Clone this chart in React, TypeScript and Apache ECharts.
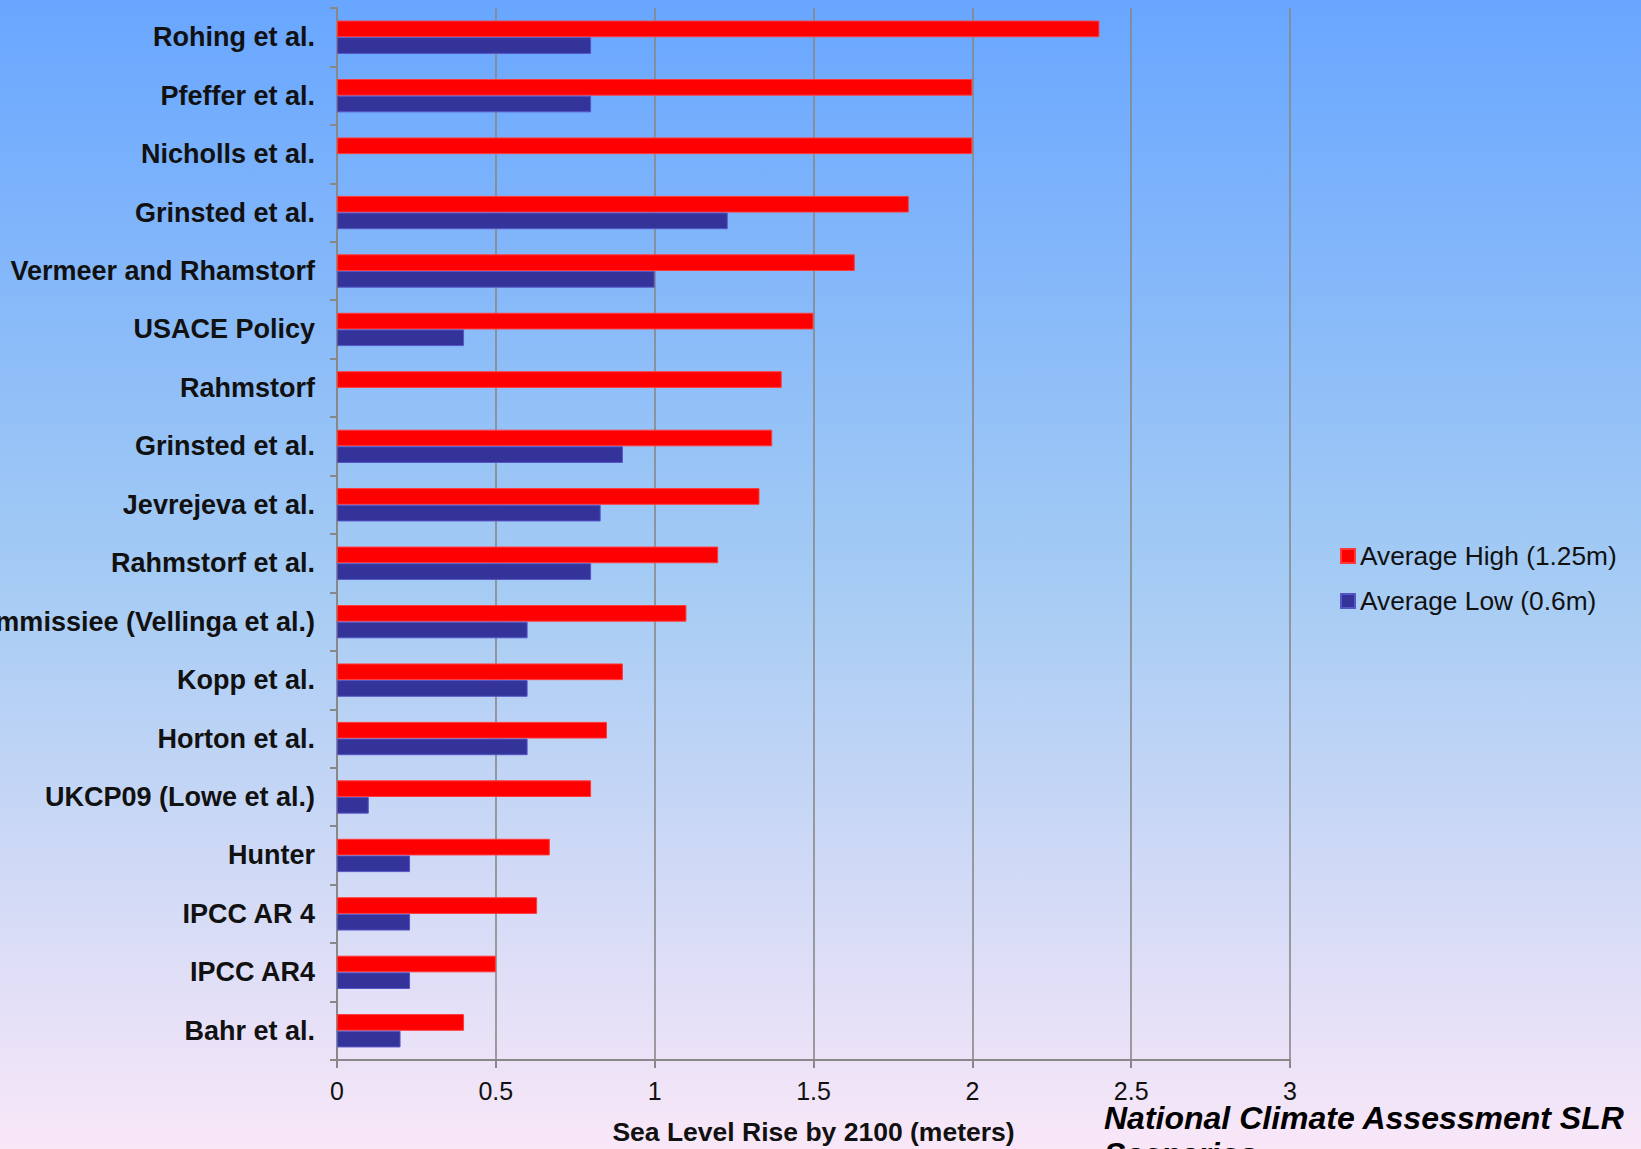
import React, { useEffect, useRef } from "react";
import * as echarts from "echarts";

const categories = [
  "Rohing et al.",
  "Pfeffer et al.",
  "Nicholls et al.",
  "Grinsted et al.",
  "Vermeer and Rhamstorf",
  "USACE Policy",
  "Rahmstorf",
  "Grinsted et al. ",
  "Jevrejeva et al.",
  "Rahmstorf et al.",
  "Deltacommissiee (Vellinga et al.)",
  "Kopp et al.",
  "Horton et al.",
  "UKCP09 (Lowe et al.)",
  "Hunter",
  "IPCC AR 4",
  "IPCC AR4",
  "Bahr et al.",
];

const highValues = [2.4, 2.0, 2.0, 1.8, 1.63, 1.5, 1.4, 1.37, 1.33, 1.2, 1.1, 0.9, 0.85, 0.8, 0.67, 0.63, 0.5, 0.4];
const lowValues = [0.8, 0.8, null, 1.23, 1.0, 0.4, null, 0.9, 0.83, 0.8, 0.6, 0.6, 0.6, 0.1, 0.23, 0.23, 0.23, 0.2];

const seriesNames = ["Average High (1.25m)", "Average Low (0.6m)"];
const xTicks = { min: 0, max: 3, interval: 0.5 };
const axisTitle = "Sea Level Rise by 2100 (meters)";
const footerText = "National Climate Assessment SLR\nScenarios";

const FONT = "'Liberation Sans', Arial, sans-serif";

export default function App() {
  const ref = useRef<HTMLDivElement>(null);
  useEffect(() => {
    if (!ref.current) return;
    const chart = echarts.init(ref.current, undefined, { renderer: "svg" });
    chart.setOption({
      animation: false,
      backgroundColor: new echarts.graphic.LinearGradient(0, 0, 0, 1, [
        { offset: 0, color: "#68a6ff" },
        { offset: 0.5, color: "#a4cbf4" },
        { offset: 1, color: "#f9e7f8" },
      ]),
      grid: {
        left: 337,
        right: 351,
        top: 8,
        bottom: 89,
        containLabel: false,
        outerBoundsMode: "none",
      },
      legend: {
        orient: "vertical",
        left: 1335,
        top: 538,
        itemWidth: 14,
        itemHeight: 14,
        itemGap: 19,
        icon: "rect",
        data: seriesNames,
        textStyle: { fontFamily: FONT, fontSize: 26.3, color: "#111" },
      },
      xAxis: {
        type: "value",
        min: xTicks.min,
        max: xTicks.max,
        interval: xTicks.interval,
        name: axisTitle,
        nameLocation: "middle",
        nameGap: 58,
        nameTextStyle: { fontFamily: FONT, fontSize: 26.5, fontWeight: "bold", color: "#111" },
        axisLine: { show: true, lineStyle: { color: "#888", width: 2 } },
        axisTick: { show: true, length: 8, lineStyle: { color: "#888", width: 2 } },
        axisLabel: { fontFamily: FONT, fontSize: 25, color: "#111", margin: 18 },
        splitLine: { show: true, lineStyle: { color: "#888", width: 1.6 } },
      },
      yAxis: {
        type: "category",
        data: categories,
        inverse: true,
        axisLine: { show: true, lineStyle: { color: "#888", width: 2 } },
        axisTick: { show: true, length: 7, lineStyle: { color: "#888", width: 2 } },
        axisLabel: {
          fontFamily: FONT,
          fontSize: 27,
          fontWeight: "bold",
          color: "#111",
          margin: 22,
          formatter: (v: string) => v.trim(),
        },
        splitLine: { show: false },
      },
      series: [
        {
          name: seriesNames[0],
          type: "bar",
          data: highValues,
          barGap: "0%",
          barCategoryGap: "43%",
          itemStyle: { color: "#ff0000", borderColor: "#ff3a3a", borderWidth: 1 },
        },
        {
          name: seriesNames[1],
          type: "bar",
          data: lowValues,
          barGap: "0%",
          barCategoryGap: "43%",
          itemStyle: { color: "#333399", borderColor: "#5555c8", borderWidth: 1 },
        },
      ],
      graphic: [
        {
          type: "text",
          left: 1104,
          top: 1100,
          style: {
            text: footerText,
            fontFamily: FONT,
            fontSize: 32,
            fontWeight: "bold",
            fontStyle: "italic",
            lineHeight: 36,
            fill: "#000",
          },
        },
      ],
    });
    return () => chart.dispose();
  }, []);
  return (
    <div
      ref={ref}
      style={{ position: "fixed", left: 0, top: 0, width: 1641, height: 1149 }}
    />
  );
}
